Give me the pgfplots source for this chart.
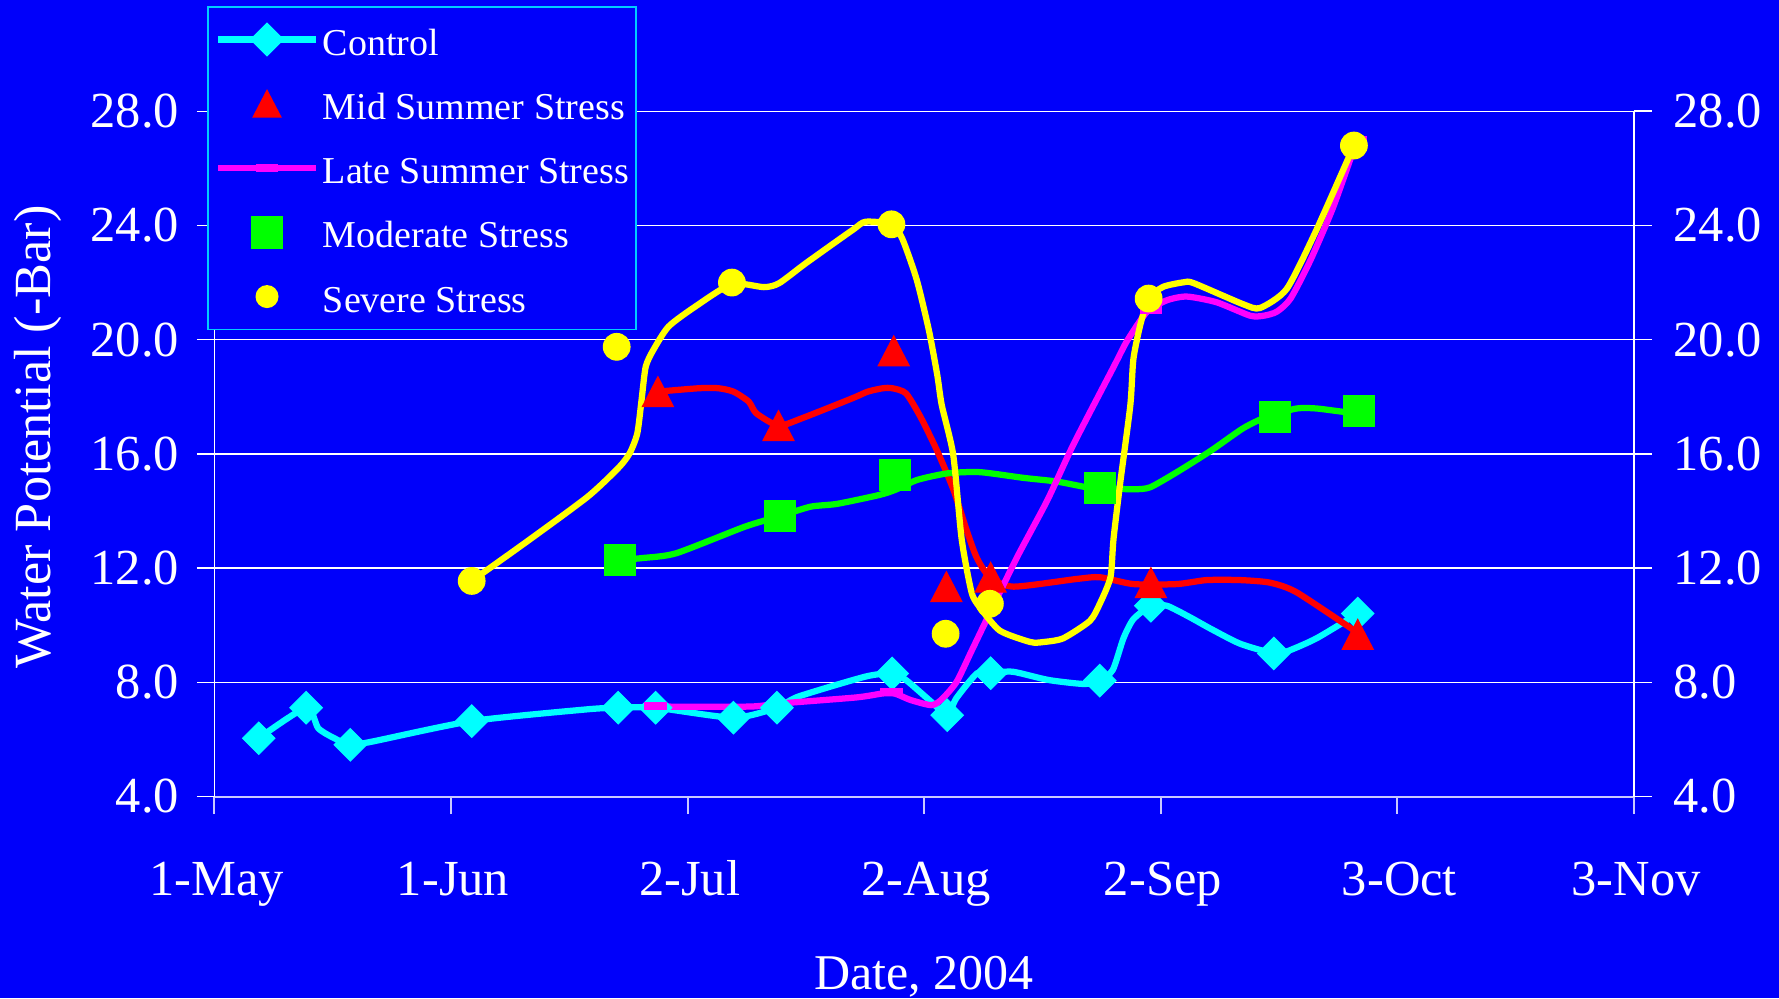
\documentclass[border=0pt]{standalone}
\usepackage{fontspec}
\setmainfont{Liberation Serif}
\usepackage{pgfplots}
\pgfplotsset{compat=1.18}
\definecolor{bg}{RGB}{0,0,250}
\definecolor{axgray}{RGB}{200,200,255}
\definecolor{legborder}{RGB}{0,204,255}
\definecolor{ccyan}{RGB}{0,255,255}
\definecolor{cred}{RGB}{255,0,0}
\definecolor{cmag}{RGB}{255,0,255}
\definecolor{cgreen}{RGB}{0,255,0}
\definecolor{cyel}{RGB}{255,255,0}
\newcommand{\tickfont}{\fontsize{20.2}{22}\selectfont}
\newcommand{\xlabfont}{\fontsize{20.0}{22}\selectfont}
\newcommand{\ylabfont}{\fontsize{20.9}{22}\selectfont}
\newcommand{\legfont}{\fontsize{15.2}{18}\selectfont}
\begin{document}
\begin{tikzpicture}
\fill[bg] (-85.8pt,-80.6pt) rectangle (625.8pt,318.6pt);
\useasboundingbox (-85.8pt,-80.6pt) rectangle (625.8pt,318.6pt);
\begin{axis}[
  at={(0pt,0pt)}, anchor=south west,
  scale only axis, width=567.8pt, height=274.1pt,
  xmin=0, xmax=186, ymin=4, ymax=28,
  axis x line*=bottom, axis y line*=left,
  axis line style={-},
  x axis line style={draw=axgray, line width=0.8pt, -},
  y axis line style={draw=white, line width=0.6pt, -},
  xtick={0,31,62,93,124,155,186},
  xticklabels={1-May,1-Jun,2-Jul,2-Aug,2-Sep,3-Oct,3-Nov},
  ytick={4,8,12,16,20,24,28},
  yticklabel={\pgfmathprintnumber[fixed,fixed zerofill,precision=1]{\tick}},
  /pgf/number format/assume math mode=true,
  tick align=outside,
  major tick length=7pt,
  x tick style={draw=axgray, line width=0.8pt},
  y tick style={draw=white, line width=0.6pt},
  ymajorgrids, grid style={white, line width=0.6pt},
  tick label style={font=\tickfont, text=white},
  xticklabel style={anchor=base, inner sep=0pt, yshift=-32.5pt, xshift=0.8pt},
  yticklabel style={anchor=east, inner sep=0pt, xshift=-7.0pt},
  xlabel={Date, 2004},
  ylabel={Water Potential (-Bar)},
  every axis x label/.style={at={(axis description cs:0.5,-0.2813)}, anchor=base, font=\xlabfont, text=white},
  every axis y label/.style={at={(axis description cs:-0.1158,0.5246)}, rotate=90, anchor=base, font=\ylabfont, text=white},
  legend style={at={(axis description cs:-0.005,1.1535)}, anchor=north west,
    draw=legborder, line width=0.6pt, fill=bg, text=white, font=\legfont,
    inner xsep=2.8pt, inner ysep=5.85pt, row sep=11.2pt,
    nodes={inner sep=0pt, text height=13.5pt, text depth=1pt},
    /tikz/every odd column/.append style={column sep=1.6pt}},
  legend cell align=left,
  legend image code/.code={\draw[mark repeat=2, mark phase=2, #1] plot coordinates {(0pt,0pt) (19.5pt,0pt) (39pt,0pt)};},
]
% ---- lines ----
\addplot[ccyan, line width=2.5pt, smooth, tension=0.4, no markers, forget plot] coordinates {
(5.8,6.04) (12.0,7.11) (13.6,6.39) (15.7,6.04) (17.8,5.81) (20.6,5.92) (33.7,6.64)
(48.7,7.05) (52.9,7.11) (57.8,7.11) (68.0,6.76) (73.7,7.11) (76.5,7.5) (85.3,8.2) (88.8,8.31)
(90.6,8.08) (93.9,7.32) (96.0,6.85) (97.2,7.44) (99.9,8.31) (101.7,8.32) (104.6,8.37)
(109.3,8.08) (114.0,7.94) (116.0,8.06) (117.7,8.43) (119.1,9.54) (120.4,10.21) (122.7,10.68)
(124.8,10.68) (127.8,10.28) (130.5,9.88) (134.4,9.35) (138.8,9.01) (140.5,9.08) (144.4,9.54) (149.8,10.41)
};
\addplot[cred, line width=2.5pt, smooth, tension=0.4, no markers, forget plot] coordinates {
(58.1,18.18) (63.5,18.30) (66.0,18.30) (68.0,18.18) (70.0,17.83) (71.0,17.42) (73.9,16.99)
(77.0,17.25) (83.6,17.95) (85.6,18.18) (87.6,18.30) (88.8,18.30) (90.6,18.12) (92.5,17.30)
(94.7,16.10) (96.8,14.76) (98.6,13.29) (99.9,12.35) (101.6,11.68) (104.7,11.35) (113.0,11.62)
(116.0,11.68) (120.4,11.44) (126.1,11.44) (130.0,11.58) (134.4,11.58) (138.3,11.49) (141.8,11.15) (149.7,9.75)
};
\addplot[cgreen, line width=2.5pt, smooth, tension=0.4, no markers, forget plot] coordinates {
(53.1,12.28) (56.0,12.35) (60.5,12.52) (69.5,13.45) (74.1,13.82) (78.1,14.15) (81.6,14.25)
(87.1,14.56) (89.2,14.74) (92.1,15.09) (96.1,15.32) (100.3,15.36) (106.0,15.16) (110.4,15.03)
(114.3,14.83) (116.0,14.80) (120.4,14.76) (122.6,14.83) (126.1,15.36) (130.5,16.10) (134.8,16.90)
(137.9,17.30) (141.8,17.59) (144.4,17.59) (148.4,17.46) (150.0,17.50)
};
\addplot[cmag, line width=2.5pt, smooth, tension=0.4, no markers, forget plot] coordinates {
(57.8,7.15) (70.1,7.15) (74.2,7.26) (84.1,7.47) (87.6,7.61) (89.2,7.60) (91.2,7.38) (93.9,7.20)
(95.2,7.38) (97.2,8.0) (99.2,9.1) (101.2,10.21) (105.1,12.35) (109.1,14.36) (112.6,16.36)
(117.8,19.04) (119.6,19.97) (122.2,20.98) (124.8,21.38) (127.4,21.51) (131.3,21.31) (135.7,20.84)
(137.5,20.84) (139.2,20.98) (141.0,21.44) (143.6,22.78) (146.6,24.65) (149.7,26.99)
};
\addplot[cyel, line width=2.5pt, smooth, tension=0.4, no markers, forget plot] coordinates {
(33.7,11.55) (41.3,13.0) (48.9,14.5) (52.9,15.5) (54.4,16.02) (55.4,16.72) (55.96,17.89)
(56.5,19.05) (57.5,19.64) (59.5,20.46) (63.0,21.16) (67.8,21.95) (72.0,21.84) (74.0,21.98)
(77.5,22.68) (83.6,23.84) (85.3,24.13) (88.7,24.04) (90.1,23.55) (92.0,22.11) (93.6,20.34)
(94.7,18.77) (95.3,17.70) (96.8,15.96) (97.9,13.02) (99.2,11.15) (100.3,10.62) (102.9,9.81)
(106.9,9.41) (108.6,9.41) (111.2,9.54) (114.7,10.15) (116.0,10.75) (117.4,11.68) (117.8,13.02)
(118.7,15.03) (120.0,17.70) (120.4,19.31) (121.3,20.51) (122.4,21.44) (124.3,21.85) (127.0,22.01)
(128.3,21.98) (134.8,21.24) (137.0,21.11) (140.5,21.78) (144.4,23.85) (149.3,26.8)
};
% ---- markers ----
\addplot[only marks, ccyan, mark=square*, mark size=4.6pt, mark options={rotate=45}, forget plot] coordinates {
(5.8,6.04) (12.0,7.11) (17.8,5.81) (33.7,6.64) (52.9,7.11) (57.8,7.11) (68.0,6.76) (73.7,7.11)
(88.8,8.31) (96.0,6.85) (101.7,8.32) (116.0,8.06) (122.7,10.68) (138.8,9.01) (149.8,10.41)
};
\addplot[only marks, cred, mark=triangle*, mark size=8pt, mark options={xscale=0.9, yshift=-2pt}, forget plot] coordinates {
(58.1,18.18) (73.9,16.99) (89.0,19.61) (95.9,11.35) (101.7,11.68) (122.7,11.49) (149.8,9.68)
};
\addplot[only marks, cmag, mark=-, mark size=4.5pt, mark options={line width=3.2pt}, forget plot] coordinates {
(57.8,7.17) (88.7,7.65) (122.7,21.04) (149.6,27.0)
};
\addplot[only marks, cgreen, mark=square*, mark size=6.2pt, forget plot] coordinates {
(53.1,12.28) (74.1,13.82) (89.2,15.26) (116.0,14.80) (138.9,17.30) (150.0,17.50)
};
\addplot[only marks, cyel, mark=*, mark size=5.35pt, forget plot] coordinates {
(33.7,11.55) (52.7,19.75) (67.8,22.0) (88.7,24.04) (95.8,9.7) (101.6,10.75) (122.4,21.44) (149.3,26.8)
};
% ---- legend ----
\addlegendimage{ccyan, line width=2.5pt, mark=square*, mark size=3.6pt, mark options={rotate=45}}
\addlegendentry{Control}
\addlegendimage{only marks, cred, mark=triangle*, mark size=7pt, mark options={xscale=0.9, yshift=-1.75pt}}
\addlegendentry{Mid Summer Stress}
\addlegendimage{cmag, line width=2.5pt, mark=-, mark size=4.5pt, mark options={line width=3.2pt}}
\addlegendentry{Late Summer Stress}
\addlegendimage{only marks, cgreen, mark=square*, mark size=6.2pt}
\addlegendentry{Moderate Stress}
\addlegendimage{only marks, cyel, mark=*, mark size=4.3pt}
\addlegendentry{Severe Stress}
\end{axis}
\begin{axis}[
  at={(0pt,0pt)}, anchor=south west,
  scale only axis, width=567.8pt, height=274.1pt,
  xmin=0, xmax=186, ymin=4, ymax=28,
  axis x line=none, axis y line*=right,
  y axis line style={draw=white, line width=0.6pt, -},
  ytick={4,8,12,16,20,24,28},
  yticklabel={\pgfmathprintnumber[fixed,fixed zerofill,precision=1]{\tick}},
  /pgf/number format/assume math mode=true,
  tick align=outside, major tick length=7pt,
  y tick style={draw=white, line width=0.6pt},
  tick label style={font=\tickfont, text=white},
  yticklabel style={anchor=west, inner sep=0pt, xshift=8.6pt},
]
\addplot[draw=none, forget plot] coordinates {(0,4)};
\end{axis}
\end{tikzpicture}
\end{document}
